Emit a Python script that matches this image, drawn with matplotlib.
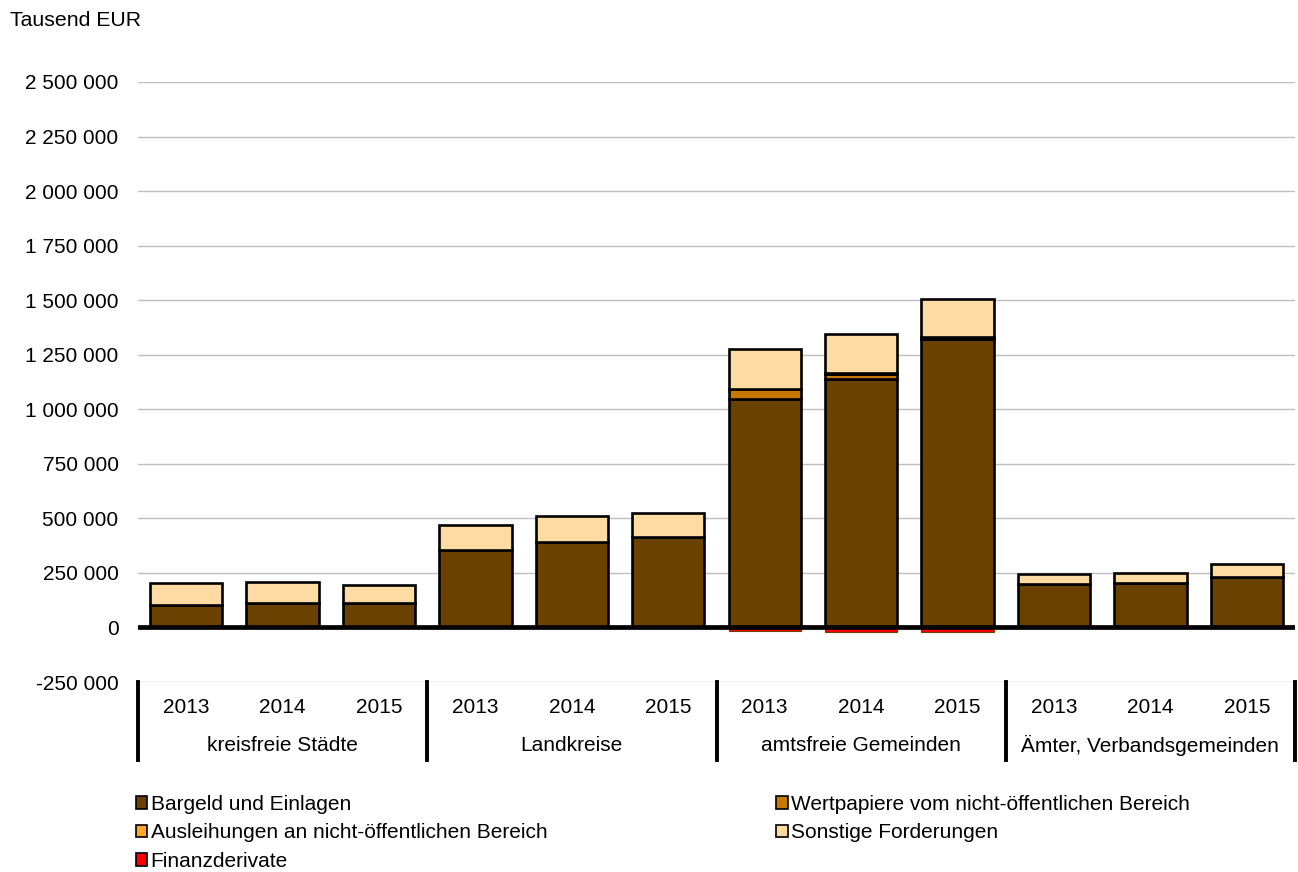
import matplotlib.pyplot as plt
import matplotlib.transforms as mtransforms
from matplotlib.patches import Patch
from matplotlib.lines import Line2D

plt.rcParams['font.family'] = ['Liberation Sans', 'DejaVu Sans']

# Werte in Tausend EUR
gruppen = ['kreisfreie Städte', 'Landkreise', 'amtsfreie Gemeinden', 'Ämter, Verbandsgemeinden']
jahre = ['2013', '2014', '2015']

bargeld = [105000, 111000, 111000, 356000, 390000, 414000,
           1049000, 1138000, 1324000, 199000, 204000, 229000]
wertpapiere = [0, 0, 0, 0, 0, 0, 46000, 24000, 6000, 0, 0, 0]
ausleihungen = [0, 0, 0, 0, 0, 0, 0, 2000, 0, 0, 0, 0]
sonstige = [97000, 98000, 85000, 112000, 119000, 112000,
            180000, 181000, 175000, 46000, 46000, 60000]
finanzderivate = [0, 0, 0, 0, 0, 0, -18000, -20000, -23000, 0, 0, 0]

serien = [
    ('Bargeld und Einlagen', bargeld, '#6B4100'),
    ('Wertpapiere vom nicht-öffentlichen Bereich', wertpapiere, '#C87800'),
    ('Ausleihungen an nicht-öffentlichen Bereich', ausleihungen, '#FFA726'),
    ('Sonstige Forderungen', sonstige, '#FFDBA4'),
]
farbe_derivate = '#FF0000'

fig = plt.figure(figsize=(12.98, 8.72), dpi=100)
ax = fig.add_axes([138 / 1298, 190 / 872, (1295 - 138) / 1298, 600 / 872])

x = list(range(len(bargeld)))
breite = 0.75
basis = [0] * len(x)
for name, werte, farbe in serien:
    ax.bar(x, werte, breite, bottom=basis, color=farbe, edgecolor='black',
           linewidth=1.9, zorder=3)
    basis = [b + w for b, w in zip(basis, werte)]
ax.bar(x, finanzderivate, breite, color=farbe_derivate, edgecolor='#6B4100',
       linewidth=0.8, zorder=2)

ax.axhline(0, color='black', linewidth=3.4, zorder=4)

ax.set_xlim(-0.5, len(x) - 0.5)
ax.set_ylim(-250000, 2500000)
ticks = list(range(-250000, 2500001, 250000))
ax.set_yticks(ticks)
ax.set_yticklabels([f'{t:,}'.replace(',', ' ') for t in ticks], fontsize=15)
ax.tick_params(axis='y', length=0, pad=14)
ax.set_xticks([])
ax.grid(axis='y', color='#BFBFBF', linewidth=1.0, zorder=0)
for s in ax.spines.values():
    s.set_visible(False)

# Kategorienbeschriftung unter der Achse
trans = mtransforms.blended_transform_factory(ax.transData, ax.transAxes)
for i in x:
    ax.text(i, -0.042, jahre[i % 3], transform=trans, ha='center', va='center', fontsize=15)
for g, name in enumerate(gruppen):
    ax.text(g * 3 + 1, -0.105, name, transform=trans, ha='center', va='center', fontsize=15)
for g in range(len(gruppen) + 1):
    ax.add_line(Line2D([g * 3 - 0.5, g * 3 - 0.5], [0, -0.13], transform=trans,
                       color='black', linewidth=2.8, clip_on=False))

fig.text(10 / 1298, 1 - 20 / 872, 'Tausend EUR', fontsize=15.3, va='center', ha='left')

# Legende (spaltenweise befuellt)
eintraege = serien + [('Finanzderivate', finanzderivate, farbe_derivate)]
reihenfolge = [0, 2, 4, 1, 3]
handles = [Patch(facecolor=eintraege[i][2], edgecolor='black', linewidth=1.2) for i in reihenfolge]
labels = [eintraege[i][0] for i in reihenfolge]
fig.legend(handles, labels, loc='upper left', bbox_to_anchor=(136 / 1298, 1 - 795 / 872),
           ncol=2, frameon=False, fontsize=15, handlelength=0.55, handleheight=0.55,
           handletextpad=0.15, labelspacing=0.45, columnspacing=11.0, borderaxespad=0,
           borderpad=0)

fig.savefig('out.png', dpi=100)
